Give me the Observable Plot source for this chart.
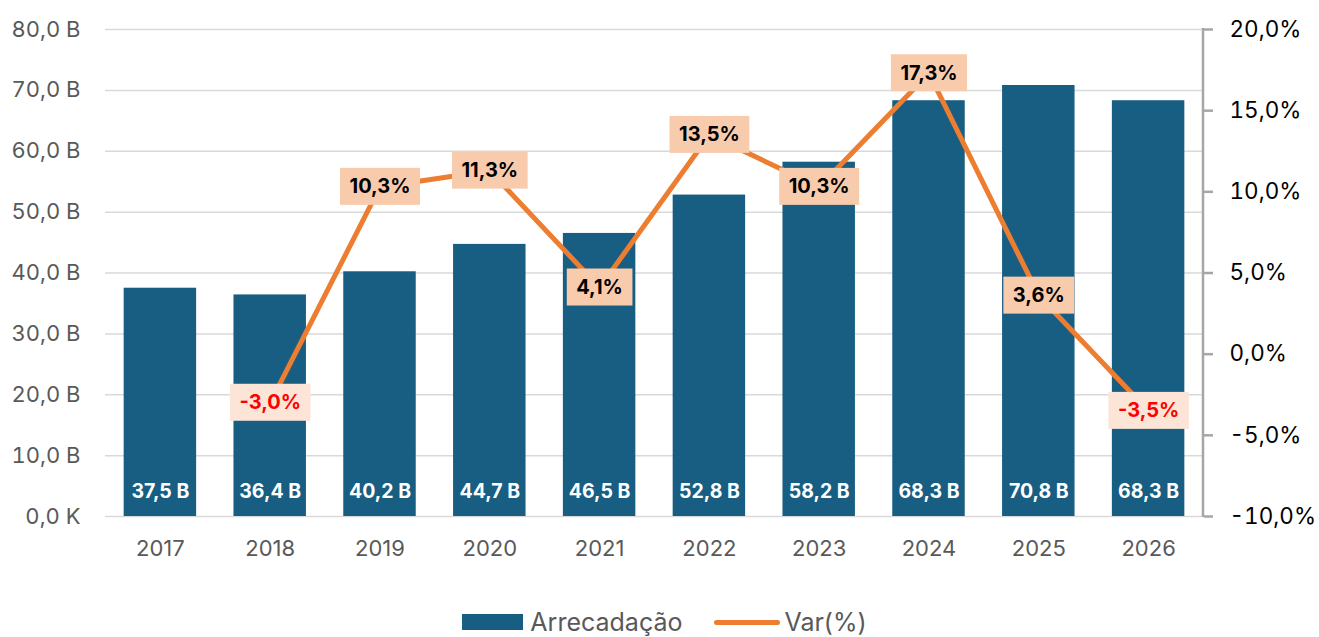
<!DOCTYPE html>
<html>
<head>
<meta charset="utf-8">
<script src="https://cdn.jsdelivr.net/npm/d3@7"></script>
<script src="https://cdn.jsdelivr.net/npm/@observablehq/plot@0.6"></script>
<style>
  html, body { margin: 0; padding: 0; background: #ffffff; }
  body { width: 1319px; height: 637px; overflow: hidden; font-family: Inter, Roboto, sans-serif; }
  #legend { display: flex; justify-content: center; align-items: center; padding-top: 33px; padding-left: 10px; font-size: 25px; line-height: 28px; color: #595959; }
  .item { display: flex; align-items: center; }
  .sw-bar { width: 61px; height: 16px; background: #175E82; margin-right: 7px; }
  .sw-line { width: 66px; height: 5px; border-radius: 3px; background: #ED7D31; margin-right: 4px; margin-left: 32px; }
</style>
</head>
<body>
<div id="chart"></div>
<div id="legend">
  <div class="item"><div class="sw-bar"></div><span>Arrecadação</span></div>
  <div class="item"><div class="sw-line"></div><span>Var(%)</span></div>
</div>
<script>
const years = ["2017","2018","2019","2020","2021","2022","2023","2024","2025","2026"];
const arrecadacao = [37.5, 36.4, 40.2, 44.7, 46.5, 52.8, 58.2, 68.3, 70.8, 68.3]; // bilhões
const varPct = [null, -3.0, 10.3, 11.3, 4.1, 13.5, 10.3, 17.3, 3.6, -3.5];
const leftTicks = [0, 10, 20, 30, 40, 50, 60, 70, 80];
const rightTicks = [-10, -5, 0, 5, 10, 15, 20];

const barColor = "#175E82";
const lineColor = "#ED7D31";

// map secondary axis (-10%..20%) onto primary (0..80)
const toY = p => (p + 10) / 30 * 80;
const fromY = y => y / 80 * 30 - 10;

const bars = years.map((year, i) => ({year, value: arrecadacao[i]}));
const pts = years.map((year, i) => ({year, pct: varPct[i]})).filter(d => d.pct !== null);

const fmt1 = v => v.toFixed(1).replace(".", ",");

const width = 1319, height = 575;
const marginLeft = 105, marginRight = 116, marginTop = 29, marginBottom = 59;

const rightAxisLine = (index, scales, values, dims) => {
  const x = dims.width - dims.marginRight;
  const l = document.createElementNS("http://www.w3.org/2000/svg", "line");
  l.setAttribute("x1", x); l.setAttribute("x2", x);
  l.setAttribute("y1", dims.marginTop - 1); l.setAttribute("y2", dims.height - dims.marginBottom + 1);
  l.setAttribute("stroke", "#A6A6A6"); l.setAttribute("stroke-width", 2.5);
  return l;
};

const plot = Plot.plot({
  width, height, marginLeft, marginRight, marginTop, marginBottom,
  style: {fontFamily: "Inter, Roboto, sans-serif", background: "#ffffff"},
  x: {domain: years, paddingInner: 0.34, paddingOuter: 0.17, round: false, label: null},
  y: {domain: [0, 80], label: null},
  marks: [
    Plot.gridY(leftTicks, {stroke: "#D9D9D9", strokeOpacity: 1, strokeWidth: 1.5}),
    Plot.axisY(leftTicks, {anchor: "left", tickSize: 0, tickPadding: 25, fontSize: 22, fill: "#595959",
      tickFormat: v => v === 0 ? "0,0 K" : fmt1(v) + " B", label: null}),
    Plot.axisX({tickSize: 0, tickPadding: 24, fontSize: 22, fill: "#595959", label: null}),
    Plot.barY(bars, {x: "year", y: "value", fill: barColor}),
    Plot.text(bars, {x: "year", y: 0, text: d => fmt1(d.value) + " B", dy: -25, fill: "white", fontWeight: "bold", fontSize: 19.5}),
    Plot.line(pts, {x: "year", y: d => toY(d.pct), stroke: lineColor, strokeWidth: 5, strokeLinecap: "round"}),
    Plot.text(pts, {x: "year", y: d => toY(d.pct), text: d => fmt1(d.pct) + "%",
      fill: d => d.pct < 0 ? "#FF0000" : "#000000", fontWeight: "bold", fontSize: 20, className: "varlabel"}),
    rightAxisLine,
    Plot.axisY(rightTicks.map(toY), {anchor: "right", tickSize: 9, tickPadding: 17, stroke: "#A6A6A6", strokeWidth: 2.5,
      fontSize: 22.5, fill: "#000000", tickFormat: y => fmt1(fromY(y)) + "%", label: null})
  ]
});
document.getElementById("chart").appendChild(plot);

// draw label boxes behind the % labels
const svgNS = "http://www.w3.org/2000/svg";
plot.querySelectorAll(".varlabel text").forEach(t => {
  const b = t.getBBox();
  const neg = t.textContent.startsWith("-");
  const r = document.createElementNS(svgNS, "rect");
  const padX = 9.5, h = 37;
  const cy = b.y + b.height / 2;
  r.setAttribute("x", b.x - padX);
  r.setAttribute("y", cy - h / 2);
  r.setAttribute("width", b.width + 2 * padX);
  r.setAttribute("height", h);
  r.setAttribute("fill", neg ? "#FCE4D6" : "#F8CBAD");
  const tr = t.getAttribute("transform");
  if (tr) r.setAttribute("transform", tr);
  t.parentNode.insertBefore(r, t);
});
</script>
</body>
</html>
